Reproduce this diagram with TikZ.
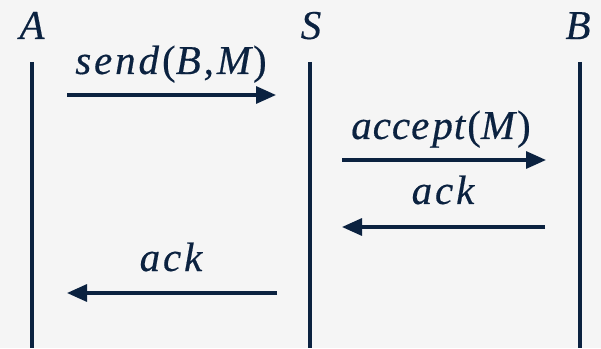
\documentclass[tikz,border=0pt]{standalone}
\usepackage{fontspec}
\setmainfont{Liberation Serif}
\newfontfamily\lblfont[FakeBold=0.4,LetterSpace=7]{Liberation Serif Italic}
\newfontfamily\upfont[FakeBold=0.4]{Liberation Serif}
\usetikzlibrary{arrows.meta}
\definecolor{ink}{HTML}{0B2240}
\definecolor{bg}{HTML}{F5F5F5}
\tikzset{
  lifeline/.style={draw=ink, line width=3.2pt},
  msg/.style={draw=ink, line width=3.2pt, -{Triangle[length=20pt,width=17pt]}},
  lbl/.style={text=ink, font=\fontsize{41}{44}\lblfont, anchor=base, inner sep=0pt},
}
\newcommand{\up}[1]{{\upfont #1}}
\begin{document}
\begin{tikzpicture}[x=1pt,y=1pt]
\fill[bg] (0,0) rectangle (601,348);
\useasboundingbox (0,0) rectangle (601,348);
% participants
\node[lbl] (A) at (32,309) {A};
\node[lbl] (S) at (311,309) {S};
\node[lbl] (B) at (578,309) {B};
\coordinate (At) at (32,286); \coordinate (Ab) at (32,0);
\coordinate (St) at (310,286); \coordinate (Sb) at (310,0);
\coordinate (Bt) at (580,286); \coordinate (Bb) at (580,0);
\draw[lifeline] (At) -- (Ab);
\draw[lifeline] (St) -- (Sb);
\draw[lifeline] (Bt) -- (Bb);
% message ends
\coordinate (m1s) at (67,253); \coordinate (m1e) at (276,253);
\coordinate (m2s) at (342,188); \coordinate (m2e) at (546,188);
\coordinate (m3s) at (545,121); \coordinate (m3e) at (342,121);
\coordinate (m4s) at (277,55); \coordinate (m4e) at (67,55);
\draw[msg] (m1s) -- (m1e);
\draw[msg] (m2s) -- (m2e);
\draw[msg] (m3s) -- (m3e);
\draw[msg] (m4s) -- (m4e);
% labels
\node[lbl] (l1) at (171,274) {send\kern3pt\up{(}B,\kern3pt M\kern2pt\up{)}};
\node[lbl] (l2) at (441,209) {a\kern1pt c\kern1pt c\kern1pt e\kern3pt p\kern1pt t\kern2pt\up{(}M\kern2pt\up{)}};
\node[lbl] (l3) at (443,144) {ack};
\node[lbl] (l4) at (171,77) {ack};
\end{tikzpicture}
\end{document}
